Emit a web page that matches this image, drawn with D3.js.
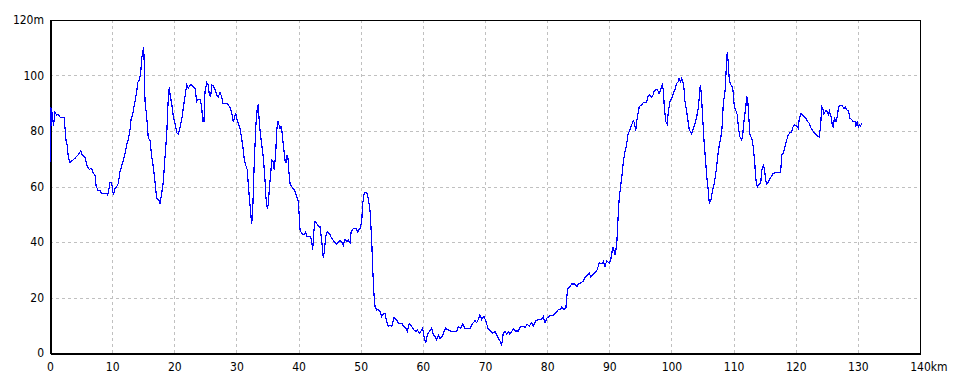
<!DOCTYPE html>
<html>
<head>
<meta charset="utf-8">
<script src="https://cdn.jsdelivr.net/npm/d3@7"></script>
<style>
  body { margin: 0; background: #fff; }
  svg text { font-family: "Liberation Sans Narrow", "DejaVu Sans Condensed", sans-serif; font-size: 12px; fill: #000; }
</style>
</head>
<body>
<svg id="chart" width="960" height="384"></svg>
<script>
// distance along the route (km) and elevation (m)
const distKm = [
  0.12, 0.16, 0.27, 0.56, 0.8, 1.08, 1.34, 1.61, 2.25, 2.41, 2.57, 2.78, 2.94, 3.22, 4.02, 4.55, 4.94, 5.2, 5.63, 5.91,
  6.32, 6.71, 6.97, 7.24, 7.4, 7.68, 8.05, 8.32, 9.12, 9.29, 9.66, 9.93, 10.19, 10.46, 10.73, 10.99, 11.26, 11.63, 11.96, 12.34,
  12.6, 12.87, 13.03, 13.24, 13.4, 13.68, 13.95, 14.11, 14.37, 14.6, 14.76, 14.92, 15.08, 15.17, 15.29, 15.56, 15.82, 16.09, 16.37, 16.62,
  16.9, 17.17, 17.54, 17.7, 17.97, 18.23, 18.51, 18.78, 19.04, 19.2, 19.36, 19.58, 19.84, 20.12, 20.39, 20.65, 20.92, 21.19, 21.45, 21.72,
  22.0, 22.25, 22.64, 23.06, 23.33, 23.61, 23.86, 24.14, 24.41, 24.57, 24.78, 24.94, 25.22, 25.47, 25.63, 25.86, 26.02, 26.28, 26.55, 26.83,
  27.08, 27.36, 27.63, 27.79, 28.43, 28.69, 28.97, 29.24, 29.5, 29.88, 30.04, 30.3, 30.57, 30.84, 31.11, 31.27, 31.49, 31.75, 31.91, 32.07,
  32.3, 32.46, 32.62, 32.83, 32.99, 33.15, 33.36, 33.52, 33.68, 33.91, 34.07, 34.32, 34.6, 34.76, 34.97, 35.13, 35.29, 35.52, 35.68, 35.93,
  36.09, 36.32, 36.48, 36.64, 36.85, 37.01, 37.17, 37.33, 37.54, 37.82, 37.98, 38.14, 38.3, 38.46, 38.62, 38.89, 39.15, 39.43, 39.7, 39.96,
  40.12, 40.23, 40.5, 40.87, 41.15, 41.31, 41.95, 42.11, 42.27, 42.48, 42.64, 42.92, 43.17, 43.45, 43.72, 43.98, 44.14, 44.37, 44.62, 44.95,
  45.33, 45.7, 46.13, 46.67, 46.94, 47.2, 47.47, 47.75, 48.0, 48.28, 48.44, 48.81, 49.24, 49.51, 49.89, 50.16, 50.32, 50.58, 50.96, 51.22,
  51.49, 51.77, 51.93, 52.14, 52.3, 52.57, 52.83, 53.1, 53.38, 53.64, 53.91, 54.18, 54.44, 54.71, 54.99, 55.36, 55.79, 56.05, 56.6, 56.85,
  57.29, 57.5, 57.82, 58.2, 58.57, 58.9, 59.11, 59.43, 59.65, 59.97, 60.18, 60.46, 60.72, 61.04, 61.42, 61.68, 61.95, 62.23, 62.49, 62.76,
  63.13, 63.4, 63.68, 64.1, 64.64, 65.45, 65.7, 66.09, 66.41, 66.78, 67.59, 68.02, 68.39, 68.66, 68.92, 69.19, 69.47, 69.84, 70.16, 70.53,
  70.92, 71.24, 71.61, 71.88, 72.14, 72.41, 72.69, 72.94, 73.22, 73.49, 73.75, 74.02, 74.3, 74.55, 74.83, 75.36, 75.63, 76.07, 76.44, 76.81,
  77.13, 77.52, 77.77, 78.21, 78.58, 79.12, 79.38, 79.66, 79.93, 80.35, 80.99, 81.42, 81.8, 82.07, 82.34, 82.71, 83.03, 83.15, 83.31, 83.68,
  83.95, 84.48, 84.76, 85.01, 85.4, 85.82, 86.09, 86.37, 86.78, 87.01, 87.33, 87.7, 88.07, 88.39, 88.78, 89.04, 89.31, 89.58, 90.0, 90.23,
  90.49, 90.65, 90.92, 91.19, 91.35, 91.51, 91.72, 91.88, 92.09, 92.25, 92.48, 92.8, 93.01, 93.33, 93.61, 93.87, 94.03, 94.26, 94.42, 94.57,
  94.83, 95.22, 95.48, 96.02, 96.18, 96.44, 96.72, 96.99, 97.2, 97.52, 97.73, 98.0, 98.27, 98.53, 98.69, 98.85, 99.08, 99.33, 99.5, 99.77,
  100.04, 100.3, 100.57, 100.85, 101.11, 101.22, 101.49, 101.65, 101.82, 102.02, 102.18, 102.46, 102.71, 102.88, 103.1, 103.26, 103.52, 103.79, 104.07, 104.32,
  104.49, 104.65, 104.81, 105.03, 105.24, 105.45, 105.68, 105.93, 106.09, 106.37, 106.58, 106.9, 107.17, 107.44, 107.7, 107.93, 108.14, 108.35, 108.62, 108.78,
  108.89, 108.99, 109.15, 109.31, 109.58, 109.86, 110.12, 110.34, 110.6, 110.82, 111.03, 111.31, 111.47, 111.72, 111.95, 112.11, 112.27, 112.48, 112.64, 112.92,
  113.17, 113.4, 113.56, 113.82, 114.14, 114.37, 114.53, 114.79, 114.95, 115.18, 115.34, 115.59, 115.86, 116.14, 116.39, 116.94, 117.58, 117.74, 118.0, 118.28,
  118.55, 118.81, 119.08, 119.35, 119.61, 119.88, 120.16, 120.42, 120.58, 120.85, 121.22, 121.66, 121.93, 122.19, 122.41, 122.73, 123.1, 123.47, 123.79, 124.02,
  124.18, 124.34, 124.55, 124.83, 125.08, 125.24, 125.41, 125.68, 125.89, 126.05, 126.21, 126.48, 126.69, 126.91, 127.13, 127.5, 127.77, 127.98, 128.2, 128.46,
  128.74, 129.06, 129.27, 129.54, 129.7, 129.91, 130.07, 130.23, 130.45, 130.61
];
const elevM = [
  69, 88, 87.6, 82, 86.6, 85.8, 85.9, 85, 85, 81.3, 76.8, 74.6, 70.7, 68.6, 70.2, 71.4, 72.8, 71.4, 70.5, 67.7,
  66.2, 66.5, 64.8, 64.1, 60.5, 58.7, 58.5, 57.5, 57.5, 56.9, 61.4, 61.2, 57, 59.3, 59.9, 61.1, 65.3, 68.1, 70.7, 75,
  76.8, 80.4, 84, 85.4, 87.3, 90.6, 94.2, 97.4, 98.4, 100.8, 106.2, 108.6, 110.4, 103.8, 90.6, 85.2, 77.4, 76.8, 70.7, 67.1,
  61.7, 55.7, 54.9, 53.9, 57.5, 61.7, 70.7, 78.6, 92.4, 95.7, 92.4, 90, 85.2, 82.8, 79.4, 78.8, 81.3, 84, 88.2, 92.4,
  96.6, 95.4, 96.8, 96, 95.4, 90.6, 91.4, 91.4, 88.8, 83.4, 83.4, 94.2, 97.4, 96.6, 93, 92.4, 96.6, 96.2, 95, 93,
  92.4, 93.8, 92.4, 90, 90, 89.4, 88.5, 86.4, 83.4, 86.4, 84.6, 82.8, 81, 77.4, 73.2, 69.5, 67.7, 66, 60.5, 56.3,
  50.3, 46.5, 51.5, 66, 75, 82.8, 88.2, 89.7, 83, 77.9, 75, 70.7, 62.3, 55.7, 52.1, 53.3, 59.3, 64.8, 69.5, 68.9,
  66, 72, 79.7, 83.7, 82.2, 81, 81.8, 79.7, 75, 69.5, 68.4, 71.4, 70.2, 64.8, 61.2, 59.9, 59.3, 58.1, 56.3, 54.5,
  49.1, 44.3, 43.1, 42.5, 43.7, 41.9, 41.9, 40.1, 37.1, 44.3, 47.3, 46.7, 45.8, 45.5, 40.7, 34.1, 36.5, 41.9, 43.7, 43.1,
  41.3, 40.3, 39.1, 40.7, 39.9, 38.9, 41, 40.1, 40.7, 39.7, 43.4, 44.9, 44.9, 43.7, 44.9, 47.3, 53.9, 57.8, 57.8, 55.7,
  51.5, 40.7, 30.5, 20.9, 16.7, 15.5, 15.7, 14.9, 13.1, 14.1, 14.3, 11.3, 9.5, 10.1, 9.5, 12.9, 11.9, 10.7, 10.7, 9.7,
  8.9, 7.7, 10.7, 9.5, 8.3, 7.7, 8.3, 7.1, 7.7, 8.9, 5.9, 3.5, 6.5, 7.7, 8.9, 6.8, 5.9, 4.7, 6.5, 5.3,
  5.9, 7.7, 8.9, 8.3, 7.7, 7.7, 9.5, 8.9, 10.5, 8.9, 8.9, 10.7, 11.6, 10.9, 12.1, 13.7, 12.1, 13.3, 11.3, 8.5,
  8, 7.1, 7.7, 6.5, 5.3, 4.4, 2.9, 7.1, 7.7, 6.8, 7.7, 6.8, 7.7, 8.9, 7.9, 7.9, 9.3, 9.7, 9.3, 10.3,
  9.7, 10.9, 9.7, 11.6, 12.1, 12.1, 13.1, 10.9, 12.5, 13.3, 13.7, 14.5, 15.7, 15.5, 16.5, 15.7, 16.5, 19.7, 23.3, 23.9,
  24.9, 24.9, 23.9, 24.8, 25.3, 25.9, 27.3, 27.7, 28.7, 27.5, 28.1, 28.9, 30.1, 32.5, 32.1, 32.9, 31.1, 33.3, 32.3, 33.5,
  37.1, 38.3, 35.3, 38.9, 45.5, 53.3, 58.1, 61.2, 64.8, 68.6, 72, 75.3, 78.9, 80.4, 82.2, 83.7, 83, 80.1, 83.4, 85.8,
  88.8, 89.4, 90.2, 90.2, 92.4, 93, 92.2, 92.6, 94.2, 95, 95, 93.6, 94.8, 96.6, 95, 88.8, 83.4, 82.5, 87, 90.6,
  91.8, 93.6, 95, 97.2, 97.8, 99, 97.8, 99, 98.1, 95.4, 90.6, 87, 82.8, 80.4, 79.7, 78.9, 81, 82.5, 85.2, 88.2,
  92.4, 96.6, 93.6, 84.6, 76.8, 70.7, 63.5, 58.7, 53.9, 55.1, 58.1, 61.2, 65.3, 70.7, 75, 77.4, 81, 90, 94.2, 100.8,
  105.6, 108.6, 104.4, 98.4, 96.6, 95.7, 88.8, 87.6, 85.8, 80.4, 77.9, 76.8, 78.6, 84.6, 88.2, 92.4, 91.4, 84, 78.6, 77.4,
  74.3, 68.9, 62.9, 59.9, 60.9, 61.1, 65.9, 67.7, 66.5, 62.3, 60.9, 61.7, 62.9, 63.8, 64.8, 65, 65, 71.4, 72, 74.3,
  76.8, 78.6, 79.4, 79.7, 81.8, 82.2, 81.8, 81, 84.6, 86.4, 85.4, 84.6, 83.4, 82.8, 81.3, 80.1, 79.2, 78.2, 77.9, 82.2,
  88.8, 88.2, 86.1, 87.3, 87, 85.8, 87.3, 85.2, 82.2, 81.3, 84.6, 83.4, 85.4, 88.8, 89.2, 89, 88.2, 88.8, 87.6, 87.3,
  84.6, 84, 83.4, 83.4, 81.8, 83.4, 81.3, 82.2, 81.8, 82.8
];

const xTicks = [0, 10, 20, 30, 40, 50, 60, 70, 80, 90, 100, 110, 120, 130, 140];
const yTicks = [0, 20, 40, 60, 80, 100, 120];
const xUnit = 'km';
const yUnit = 'm';

const margin = { top: 20, right: 40, bottom: 31, left: 50 };
const width = 960 - margin.left - margin.right;   // 870
const height = 384 - margin.top - margin.bottom;  // 333

const svg = d3.select('#chart');
const g = svg.append('g').attr('transform', `translate(${margin.left},${margin.top})`);

const x = d3.scaleLinear().domain([0, 140]).range([0, width]);
const y = d3.scaleLinear().domain([0, 120]).range([height, 0]);

// dashed grid
g.append('g')
  .selectAll('line')
  .data(xTicks.slice(1, -1))
  .enter()
  .append('line')
  .attr('x1', (d) => Math.round(x(d)) + 0.5)
  .attr('x2', (d) => Math.round(x(d)) + 0.5)
  .attr('y1', 0)
  .attr('y2', height)
  .attr('stroke', '#c0c0c0')
  .attr('stroke-dasharray', '3,3')
  .attr('shape-rendering', 'crispEdges');

g.append('g')
  .selectAll('line')
  .data(yTicks.slice(1, -1))
  .enter()
  .append('line')
  .attr('x1', 0)
  .attr('x2', width)
  .attr('y1', (d) => Math.round(y(d)) + 0.5)
  .attr('y2', (d) => Math.round(y(d)) + 0.5)
  .attr('stroke', '#c0c0c0')
  .attr('stroke-dasharray', '3,3')
  .attr('shape-rendering', 'crispEdges');

// frame: thin top/right, thicker left/bottom (from the axes)
g.append('rect')
  .attr('x', 0.5).attr('y', 0.5)
  .attr('width', width).attr('height', height)
  .attr('fill', 'none').attr('stroke', '#000')
  .attr('shape-rendering', 'crispEdges');

// axes
const xAxis = g.append('g')
  .attr('transform', `translate(0,${height})`)
  .call(d3.axisBottom(x).tickValues(xTicks).tickSize(0).tickPadding(9));
xAxis.select('.domain').attr('stroke', '#000').attr('stroke-width', 2).attr('shape-rendering', 'crispEdges');
xAxis.selectAll('text').attr('font-family', null).attr('font-size', null);
// unit after the last number, number stays centred on its tick
xAxis.selectAll('.tick text')
  .filter((d) => d === xTicks[xTicks.length - 1])
  .each(function () {
    const w = this.getComputedTextLength();
    d3.select(this).attr('text-anchor', 'start').attr('x', -w / 2).text(this.textContent + xUnit);
  });

const yAxis = g.append('g')
  .call(d3.axisLeft(y).tickValues(yTicks).tickSize(0).tickPadding(6)
    .tickFormat((d) => d === yTicks[yTicks.length - 1] ? d + yUnit : d));
yAxis.select('.domain').attr('stroke', '#000').attr('stroke-width', 2).attr('shape-rendering', 'crispEdges');
yAxis.selectAll('text').attr('font-family', null).attr('font-size', null);

// profile line, on top of the axes
const points = distKm.map((d, i) => [d, elevM[i]]);
g.append('path')
  .datum(points)
  .attr('fill', 'none')
  .attr('stroke', '#0000ff')
  .attr('stroke-width', 1.2)
  .attr('shape-rendering', 'crispEdges')
  .attr('d', d3.line().x((d) => x(d[0])).y((d) => y(d[1])));
</script>
</body>
</html>
